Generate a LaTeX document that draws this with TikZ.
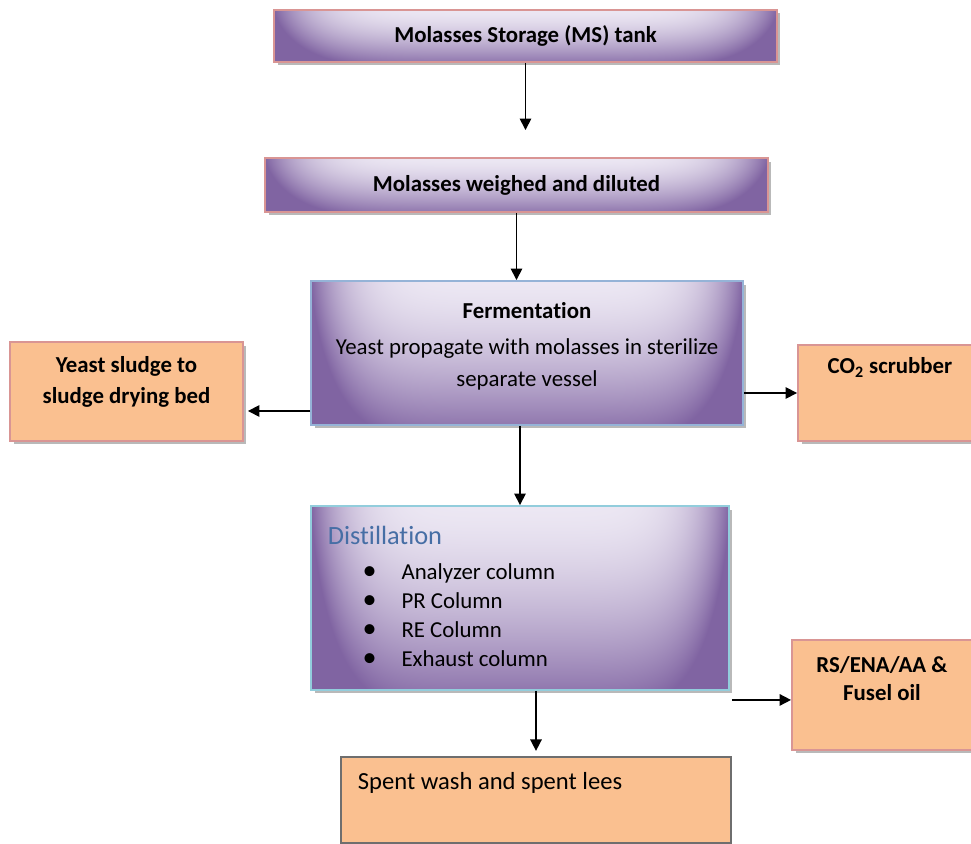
\documentclass[tikz,border=0pt]{standalone}
\usepackage{fontspec}
\setmainfont{Carlito}[Ligatures=CommonOff]
\usetikzlibrary{arrows.meta,shadows}

\definecolor{rosebrd}{RGB}{217,149,148}
\definecolor{orangefill}{RGB}{250,192,144}
\definecolor{fermbrd}{RGB}{149,179,215}
\definecolor{distbrd}{RGB}{146,205,220}
\definecolor{distblue}{RGB}{70,110,165}
\definecolor{spentbrd}{RGB}{110,110,110}

\pgfdeclarefunctionalshading{purpleglow}{\pgfpoint{-50bp}{-50bp}}{\pgfpoint{50bp}{50bp}}{}{
  25 exch sub 50 div
  dup 0 lt {pop 0} if
  dup 1 gt {pop 1} if
  dup sqrt mul 0.85 mul
  exch abs 25 div
  dup 1 gt {pop 1} if
  dup mul dup dup mul mul
  add
  dup 1 gt {pop 1} if
  dup 0.423 mul 0.925 exch sub
  exch dup 0.514 mul 0.906 exch sub
  exch 0.318 mul 0.953 exch sub
}

\newcommand{\distitem}[1]{\hspace*{33.4pt}\makebox[0pt]{\fontsize{16}{16}\selectfont\textbullet}\hspace*{18.1pt}#1\par}

\tikzset{
  boxshadow/.style={drop shadow={shadow xshift=0.07cm, shadow yshift=-0.07cm, fill=black!55, opacity=0.5}},
  stage/.style={shade, shading=purpleglow, draw=rosebrd, line width=1.1pt, inner sep=0pt, boxshadow},
  outbox/.style={fill=orangefill, draw=rosebrd, line width=1.1pt, inner sep=0pt, boxshadow},
  flow/.style={-{Triangle[width=6.5pt,length=6.5pt]}, line width=0.9pt}
}

\begin{document}
\begin{tikzpicture}[x=0.02cm, y=-0.02cm]
      \useasboundingbox (0,0) rectangle (971,844);
      \node[stage, minimum width=10.06cm, minimum height=1.04cm, font=\fontsize{13}{16}\selectfont\bfseries] (ms) at (525.5,36) {Molasses Storage (MS) tank};
      \node[stage, minimum width=10.06cm, minimum height=1.08cm, font=\fontsize{13}{16}\selectfont\bfseries] (wd) at (516.5,185) {Molasses weighed and diluted};
      \node[stage, draw=fermbrd] (ferm) at (527,353) {\parbox[c][2.88cm][t]{8.64cm}{\centering\fontsize{13}{18}\selectfont\vspace*{8.5pt}\strut\textbf{Fermentation}\\[3pt] Yeast propagate with molasses in sterilize\\ separate vessel}};
      \node[outbox] (yeast) at (126.5,391.5) {\parbox[c][1.98cm][t]{4.66cm}{\centering\fontsize{13}{17.6}\selectfont\bfseries\vspace*{5pt}\strut Yeast sludge to\\ sludge drying bed}};
      \node[outbox] (co2) at (890,393) {\parbox[c][1.92cm][t]{3.68cm}{\centering\fontsize{13}{17}\selectfont\bfseries\vspace*{4.6pt}\strut CO\textsubscript{2} scrubber}};
      \node[stage, draw=distbrd] (dist) at (520,598) {\parbox[c][3.68cm][t]{8.36cm}{\fontsize{13}{16.4}\selectfont\vspace*{9.4pt}\hspace*{9.6pt}{\color{distblue}\fontsize{15}{18}\selectfont\strut Distillation}\par\vspace{3.6pt}
        \distitem{Analyzer column}\distitem{PR Column}\distitem{RE Column}\distitem{Exhaust column}}};
      \node[outbox] (rs) at (882,695) {\parbox[c][2.2cm][t]{3.6cm}{\centering\fontsize{13}{16}\selectfont\bfseries\vspace*{7.5pt}\strut RS/ENA/AA \&\\ Fusel oil}};
      \node[fill=orangefill, draw=spentbrd, line width=1.3pt, inner sep=0pt] (spent) at (536,800) {\parbox[c][1.72cm][t]{7.8cm}{\fontsize{14}{18}\selectfont\vspace*{5.7pt}\hspace*{9.6pt}\strut Spent wash and spent lees}};
      \draw[flow, shorten >=0.54cm] (ms.south) -- (ms.south |- wd.north);
      \draw[flow] (wd.south) -- (wd.south |- ferm.north);
      \draw[flow] (ferm.south -| dist.north) -- (dist.north);
      \draw[flow, shorten >=0.1cm] (spent.north |- dist.south) -- (spent.north);
      \draw[flow, shorten >=0.08cm] ([yshift=-1.16cm]ferm.west) -- ([yshift=-1.16cm]ferm.west -| yeast.east);
      \draw[flow] (ferm.east |- co2.west) -- (co2.west);
      \draw[flow] ([shift={(0.04cm,-0.18cm)}]dist.south east) coordinate (r0) -- (r0 -| rs.west);
\end{tikzpicture}
\end{document}
